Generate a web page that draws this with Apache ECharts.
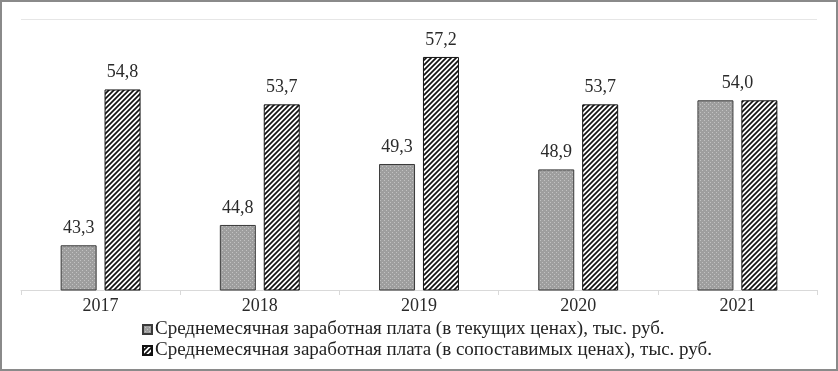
<!DOCTYPE html>
<html>
<head>
<meta charset="utf-8">
<script src="https://cdn.jsdelivr.net/npm/echarts@6/dist/echarts.min.js"></script>
<style>
  html, body { margin: 0; padding: 0; background: #fff; }
  #chart { width: 838px; height: 371px; box-sizing: border-box; border: 2px solid #8a8a8a; }
</style>
</head>
<body>
<div id="chart"></div>
<script>
// данные
var years = ['2017', '2018', '2019', '2020', '2021']
var currentPrices = [43.3, 44.8, 49.3, 48.9, 54.0]
var comparablePrices = [54.8, 53.7, 57.2, 53.7, 54.0]
var seriesNames = [
  'Среднемесячная заработная плата (в текущих ценах), тыс. руб.',
  'Среднемесячная заработная плата (в сопоставимых ценах), тыс. руб.'
]

// заливка точками (серый)
function dotPattern() {
  var c = document.createElement('canvas')
  c.width = 4
  c.height = 4
  var ctx = c.getContext('2d')
  ctx.fillStyle = '#9e9e9e'
  ctx.fillRect(0, 0, 4, 4)
  ctx.fillStyle = '#c2c2c2'
  ctx.fillRect(0, 0, 1, 1)
  ctx.fillRect(2, 2, 1, 1)
  return c
}
// штриховка
function hatchPattern() {
  var s = 5
  var c = document.createElement('canvas')
  c.width = s
  c.height = s
  var ctx = c.getContext('2d')
  ctx.fillStyle = '#fff'
  ctx.fillRect(0, 0, s, s)
  ctx.strokeStyle = '#111'
  ctx.lineWidth = 1.7
  ctx.beginPath()
  ctx.moveTo(-1, s + 1); ctx.lineTo(s + 1, -1)
  ctx.moveTo(-1, 1); ctx.lineTo(1, -1)
  ctx.moveTo(s - 1, s + 1); ctx.lineTo(s + 1, s - 1)
  ctx.stroke()
  return c
}

var fmt = function (p) {
  return p.value.toFixed(1).replace('.', ',')
}
var labelFont = {
  fontFamily: 'Liberation Serif',
  fontSize: 18,
  color: '#2a2a2a'
}

var chart = echarts.init(document.getElementById('chart'))

var option = {
  animation: false,
  grid: { left: 19, right: 19, top: 17, bottom: 79 },
  legend: {
    orient: 'vertical',
    left: 135,
    top: 313,
    itemWidth: 9,
    itemHeight: 9,
    itemGap: 2,
    icon: 'rect',
    textStyle: { fontFamily: 'Liberation Serif', fontSize: 19, color: '#222', padding: [0, 0, 0, -2] },
    data: seriesNames
  },
  xAxis: {
    type: 'category',
    data: years,
    axisLine: { lineStyle: { color: '#d9d9d9', width: 1 } },
    axisTick: { show: true, length: 5, lineStyle: { color: '#d9d9d9' } },
    axisLabel: { fontFamily: 'Liberation Serif', fontSize: 18, color: '#2a2a2a', margin: 7 }
  },
  yAxis: {
    type: 'value',
    min: 40,
    max: 60,
    interval: 20,
    axisLabel: { show: false },
    axisLine: { show: false },
    axisTick: { show: false },
    splitLine: { lineStyle: { color: '#e6e6e6' } }
  },
  series: [
    {
      name: seriesNames[0],
      type: 'bar',
      barWidth: 36,
      barGap: '22%',
      itemStyle: { color: { image: dotPattern(), repeat: 'repeat' }, borderColor: '#3a3a3a', borderWidth: 1 },
      label: Object.assign({ show: true, position: 'top', distance: 8, formatter: fmt }, labelFont),
      data: currentPrices.map(function (v, i) {
        if (i === years.length - 1) {
          return { value: v, label: { offset: [22, 0] } }
        }
        return v
      })
    },
    {
      name: seriesNames[1],
      type: 'bar',
      barWidth: 36,
      itemStyle: { color: { image: hatchPattern(), repeat: 'repeat' }, borderColor: '#111', borderWidth: 1 },
      label: Object.assign({ show: true, position: 'top', distance: 8, formatter: fmt }, labelFont),
      data: comparablePrices.map(function (v, i) {
        if (i === years.length - 1) {
          return { value: v, label: { show: false } }
        }
        return v
      })
    }
  ]
}

chart.setOption(option)
</script>
</body>
</html>
